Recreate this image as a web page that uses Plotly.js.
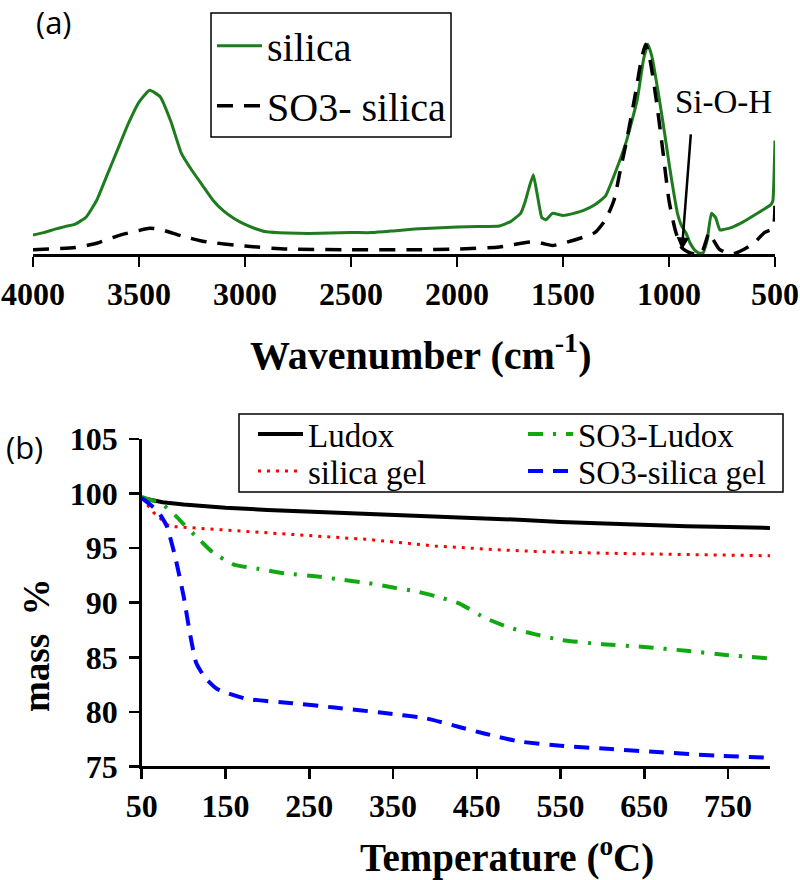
<!DOCTYPE html>
<html>
<head>
<meta charset="utf-8">
<script src="https://cdn.plot.ly/plotly-3.0.1.min.js"></script>
<style>html,body{margin:0;padding:0;background:#fff;}#chart{width:800px;height:880px;}</style>
</head>
<body>
<div id="chart"></div>
<script>
// ---- Panel (a): FTIR spectra ----
const wnSilica = [4000,3950,3900,3850,3800,3750,3700,3650,3600,3550,3500,3450,3400,3350,3300,3250,3200,3150,3100,3050,3000,2950,2900,2800,2700,2600,2500,2400,2300,2200,2100,2000,1900,1800,1750,1700,1680,1660,1640,1620,1600,1580,1550,1500,1450,1400,1350,1300,1250,1200,1150,1120,1100,1080,1050,1020,1000,980,960,940,920,900,880,860,840,820,800,780,760,740,700,650,600,550,520,510,505,500];
const absSilica = [0.089,0.10,0.115,0.128,0.14,0.172,0.25,0.37,0.49,0.61,0.71,0.765,0.735,0.62,0.47,0.39,0.32,0.25,0.20,0.165,0.138,0.118,0.104,0.098,0.096,0.098,0.10,0.10,0.108,0.117,0.122,0.126,0.128,0.131,0.15,0.19,0.24,0.31,0.37,0.27,0.17,0.16,0.19,0.18,0.19,0.205,0.23,0.27,0.39,0.53,0.72,0.91,0.98,0.92,0.75,0.56,0.425,0.30,0.19,0.13,0.098,0.05,0.02,0.005,0.005,0.065,0.19,0.17,0.112,0.115,0.126,0.15,0.18,0.21,0.23,0.25,0.35,0.53];
const wnSO3 = [4000,3800,3700,3600,3500,3450,3400,3300,3200,3000,2800,2500,2200,2000,1800,1650,1600,1550,1500,1400,1350,1300,1260,1230,1200,1160,1130,1110,1090,1060,1030,1000,970,940,900,850,810,790,760,700,650,600,550,510,500];
const absSO3 = [0.02,0.03,0.05,0.085,0.11,0.12,0.115,0.085,0.06,0.037,0.023,0.02,0.02,0.023,0.033,0.056,0.05,0.04,0.05,0.08,0.10,0.16,0.25,0.39,0.53,0.74,0.91,0.98,0.91,0.72,0.49,0.25,0.11,0.03,0.005,0.0,0.10,0.065,0.02,0.0,0.02,0.05,0.10,0.12,0.25];
const wnTicks = [4000,3500,3000,2500,2000,1500,1000,500];

// ---- Panel (b): TGA ----
const tLudox = [50,75,100,150,200,250,300,350,400,450,500,550,600,650,700,750,800];
const mLudox = [99.6,99.2,99.0,98.7,98.5,98.35,98.2,98.1,97.95,97.8,97.6,97.4,97.25,97.1,97.0,96.95,96.85];
const tGel = [50,65,83,120,160,200,240,280,320,356,400,475,520,594,650,713,760,800];
const mGel = [99.6,98.2,97.0,96.8,96.6,96.4,96.2,96.0,95.8,95.5,95.2,94.85,94.7,94.55,94.45,94.4,94.35,94.3];
const tSO3Ludox = [50,75,90,100,120,135,160,190,220,260,290,320,350,380,410,430,460,490,520,550,600,650,700,750,800];
const mSO3Ludox = [99.7,99.0,98.0,97.2,95.7,94.6,93.5,93.1,92.7,92.4,92.1,91.8,91.4,91.0,90.4,89.9,88.6,87.7,87.1,86.6,86.2,85.95,85.6,85.2,84.9];
const tSO3Gel = [50,60,70,80,90,100,108,115,125,140,175,230,280,340,390,430,460,500,550,610,670,735,800];
const mSO3Gel = [99.6,99.0,98.3,97.0,94.2,90.6,87.0,84.5,83.2,82.1,81.2,80.8,80.4,79.9,79.4,78.6,78.0,77.3,76.9,76.6,76.3,76.0,75.8];
const tTicks = [50,150,250,350,450,550,650,750];
const mTicks = [75,80,85,90,95,100,105];

const SERIF = 'Liberation Serif';
const W = 800, H = 880;

const traces = [
  {x: wnSilica, y: absSilica, xaxis:'x', yaxis:'y', mode:'lines', name:'silica', legend:'legend', legendgroup:'a1',
   line:{color:'#1e7b1e', width:3, shape:'spline', smoothing:0.4}},
  {x: wnSO3, y: absSO3, xaxis:'x', yaxis:'y', mode:'lines', name:'SO3- silica', legend:'legend', legendgroup:'a2',
   line:{color:'#000000', width:3.5, dash:'16px,11px', shape:'spline', smoothing:0.6}},
  {x: tLudox, y: mLudox, xaxis:'x2', yaxis:'y2', mode:'lines', name:'Ludox', legend:'legend2',
   line:{color:'#000000', width:4}},
  {x: tSO3Ludox, y: mSO3Ludox, xaxis:'x2', yaxis:'y2', mode:'lines', name:'SO3-Ludox', legend:'legend3',
   line:{color:'#12a812', width:4, dash:'15px,10px,3px,10px', shape:'spline', smoothing:0.5}},
  {x: tGel, y: mGel, xaxis:'x2', yaxis:'y2', mode:'lines', name:'silica gel', legend:'legend4',
   line:{color:'#ff0000', width:3, dash:'3px,6px'}},
  {x: tSO3Gel, y: mSO3Gel, xaxis:'x2', yaxis:'y2', mode:'lines', name:'SO3-silica gel', legend:'legend5',
   line:{color:'#0000ff', width:4, dash:'15px,10px', shape:'spline', smoothing:0.5}}
];

const axisCommon = {
  showline:true, linecolor:'#000', linewidth:2.5, ticks:'outside', ticklen:10, tickwidth:2.5, tickcolor:'#000',
  showgrid:false, zeroline:false, tickfont:{family:SERIF, size:32, color:'#000', weight:'bold'}
};

function legendBox(x, y, size, extra) {
  return Object.assign({x:x, y:y, xanchor:'left', yanchor:'top', bgcolor:'rgba(0,0,0,0)', borderwidth:0,
    itemwidth:45, font:{family:SERIF, size:size, color:'#000'}}, extra || {});
}

const layout = {
  width:W, height:H, margin:{l:0,r:0,t:0,b:0},
  paper_bgcolor:'#fff', plot_bgcolor:'rgba(0,0,0,0)',
  showlegend:true,
  xaxis: Object.assign({}, axisCommon, {domain:[0.04125,0.96875], range:[4000,500], tickvals:wnTicks, ticktext:wnTicks.map(String), anchor:'y'}),
  yaxis: {domain:[0.71136,0.95455], range:[0,1], visible:false, fixedrange:true},
  xaxis2: Object.assign({}, axisCommon, {domain:[0.17713,0.9625], range:[50,800], tickvals:tTicks, ticktext:tTicks.map(String), anchor:'y2'}),
  yaxis2: Object.assign({}, axisCommon, {domain:[0.12898,0.50114], range:[75,105], tickvals:mTicks, ticktext:mTicks.map(String), anchor:'x2', ticklabelstandoff:5}),
  legend:  legendBox(212/W, 1-13.2/H, 40, {tracegroupgap:5}),
  legend2: legendBox(253/W, 1-406/H, 33),
  legend3: legendBox(523/W, 1-406/H, 33),
  legend4: legendBox(253/W, 1-443/H, 33),
  legend5: legendBox(523/W, 1-443/H, 33),
  shapes: [
    {type:'rect', xref:'paper', yref:'paper', x0:211/W, x1:451/W, y0:1-137/H, y1:1-13/H, line:{color:'#000', width:1.5}, fillcolor:'rgba(0,0,0,0)', layer:'above'},
    {type:'rect', xref:'paper', yref:'paper', x0:239/W, x1:783/W, y0:1-492/H, y1:1-414/H, line:{color:'#000', width:1.5}, fillcolor:'rgba(0,0,0,0)', layer:'above'}
  ],
  annotations: [
    {xref:'paper', yref:'paper', x:54/W, y:1-22/H, xanchor:'center', yanchor:'middle', text:'(a)', showarrow:false, font:{family:'Open Sans', size:31, color:'#000'}},
    {xref:'paper', yref:'paper', x:24/W, y:1-447/H, xanchor:'center', yanchor:'middle', text:'(b)', showarrow:false, font:{family:'Open Sans', size:31, color:'#000'}},
    {xref:'paper', yref:'paper', x:420/W, y:1-352/H, xanchor:'center', yanchor:'middle', text:'Wavenumber (cm<sup>-1</sup>)', showarrow:false, font:{family:SERIF, size:40, color:'#000', weight:'bold'}},
    {xref:'paper', yref:'paper', x:507/W, y:1-855/H, xanchor:'center', yanchor:'middle', text:'Temperature (<sup>o</sup>C)', showarrow:false, font:{family:SERIF, size:39, color:'#000', weight:'bold'}},
    {xref:'paper', yref:'paper', x:36/W, y:1-645/H, xanchor:'center', yanchor:'middle', text:'mass\u00a0\u00a0%', textangle:-90, showarrow:false, font:{family:SERIF, size:37, color:'#000', weight:'bold'}},
    {xref:'x', yref:'y', x:745, y:0.71, xanchor:'center', yanchor:'middle', text:'Si-O-H', showarrow:false, font:{family:SERIF, size:33, color:'#000'}},
    {xref:'x', yref:'y', x:939, y:0.019, text:'', showarrow:true, ax:9, ay:-117, arrowhead:2, arrowsize:1, arrowwidth:2.5, arrowcolor:'#000', standoff:0}
  ]
};

Plotly.newPlot('chart', traces, layout, {displayModeBar:false, staticPlot:true});
</script>
</body>
</html>
